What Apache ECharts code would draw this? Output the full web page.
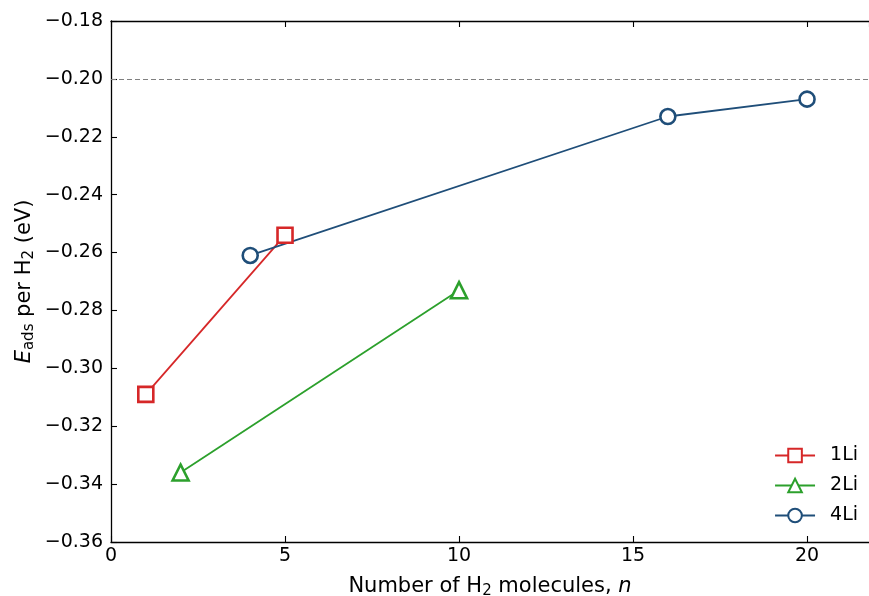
<!DOCTYPE html>
<html lang="en">

<head>
    <meta charset="UTF-8">
    <title>Eads per H2</title>
    <script type="text/javascript" src="https://cdn.jsdelivr.net/npm/echarts@6/dist/echarts.min.js"></script>
</head>

<body style="margin:0">
    <div id="main" style="width: 869px; height: 596px;"></div>

    <script type="text/javascript">
        // data
        var li1X = [1, 5];
        var li1Y = [-0.309, -0.254];
        var li2X = [2, 10];
        var li2Y = [-0.336, -0.273];
        var li4X = [4, 16, 20];
        var li4Y = [-0.261, -0.213, -0.207];
        var refLine = -0.20;

        function pairs(xs, ys) {
            return xs.map(function (x, i) { return [x, ys[i]]; });
        }

        var font = 'DejaVu Sans';
        var minus = function (v) {
            return v.toFixed(2).replace('-', '\u2212');
        };

        var myChart = echarts.init(document.getElementById('main'));

        function mkSeries(name, data, color, symbol, size) {
            return {
                name: name,
                type: 'line',
                data: data,
                symbol: symbol,
                symbolSize: size,
                showAllSymbol: true,
                lineStyle: { color: color, width: 1.8 },
                itemStyle: { color: '#fff', borderColor: color, borderWidth: 2.6 },
                emphasis: { disabled: true },
                z: 3
            };
        }

        var axisLine = { show: true, onZero: false, lineStyle: { color: '#000', width: 1.3 } };
        var axisTick = { show: true, inside: true, length: 6, lineStyle: { color: '#000', width: 1.1 } };
        var titleRich = {
            t: { fontSize: 21, color: '#000', fontFamily: font },
            s: { fontSize: 15, color: '#000', fontFamily: font, verticalAlign: 'bottom', padding: [9, 0, 0, 0] },
            i: { fontSize: 21, color: '#000', fontFamily: font, fontStyle: 'italic' }
        };

        myChart.setOption({
            animation: false,
            textStyle: { fontFamily: font },
            grid: { left: 111, right: 0, top: 21, bottom: 54, outerBoundsMode: 'none', containLabel: false },
            legend: {
                right: 6,
                bottom: 66,
                orient: 'vertical',
                itemWidth: 40,
                itemHeight: 17,
                itemGap: 11,
                textStyle: { fontSize: 19, color: '#000', fontFamily: font, padding: [0, 0, 0, 10] },
                data: ['1Li', '2Li', '4Li']
            },
            xAxis: [{
                type: 'value',
                min: 0,
                max: 21.78,
                interval: 5,
                axisLine: axisLine,
                axisTick: axisTick,
                splitLine: { show: false },
                axisLabel: {
                    fontSize: 19, color: '#000', margin: 5,
                    showMaxLabel: false
                },
                name: '{t|Number of H}{s|2}{t| molecules, }{i|n}',
                nameLocation: 'middle',
                nameGap: 33,
                nameMoveOverlap: false,
                nameTextStyle: { rich: titleRich }
            }, {
                type: 'value',
                position: 'top',
                min: 0,
                max: 21.78,
                interval: 5,
                axisLine: axisLine,
                axisTick: axisTick,
                axisLabel: { show: false },
                splitLine: { show: false }
            }],
            yAxis: [{
                type: 'value',
                min: -0.36,
                max: -0.18,
                interval: 0.02,
                axisLine: axisLine,
                axisTick: axisTick,
                splitLine: { show: false },
                axisLabel: {
                    fontSize: 19, color: '#000', margin: 8,
                    formatter: minus
                },
                name: '{i|E}{s|ads}{t| per H}{s|2}{t| (eV)}',
                nameLocation: 'middle',
                nameGap: 74,
                nameMoveOverlap: false,
                nameTextStyle: { rich: titleRich }
            }],
            series: [
                mkSeries('1Li', pairs(li1X, li1Y), '#d62728', 'rect', 15),
                mkSeries('2Li', pairs(li2X, li2Y), '#2ca02c', 'triangle', 16),
                mkSeries('4Li', pairs(li4X, li4Y), '#1f4e79', 'circle', 15),
                {
                    type: 'line',
                    data: [],
                    silent: true,
                    markLine: {
                        silent: true,
                        symbol: 'none',
                        label: { show: false },
                        lineStyle: { color: '#808080', type: [5, 3], width: 1.2 },
                        data: [{ yAxis: refLine }]
                    }
                }
            ]
        });
    </script>

</body>

</html>
